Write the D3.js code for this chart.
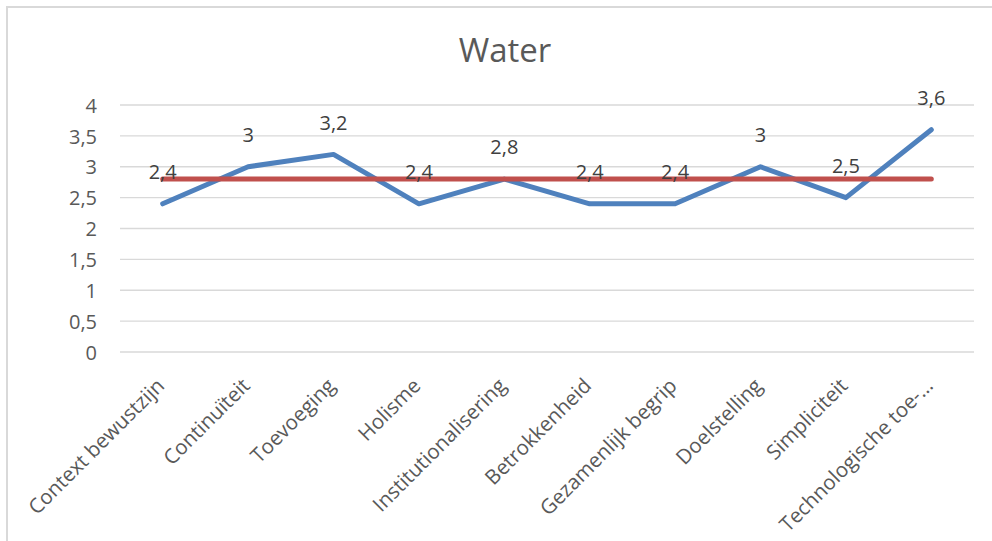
<!DOCTYPE html>
<html><head><meta charset="utf-8">
<script src="https://cdn.jsdelivr.net/npm/d3@7"></script>
<style>html,body{margin:0;padding:0;background:#fff;}svg{display:block;}</style>
</head><body>
<script>
const categories = ["Context bewustzijn","Continuïteit","Toevoeging","Holisme","Institutionalisering","Betrokkenheid","Gezamenlijk begrip","Doelstelling","Simpliciteit","Technologische toe-…"];
const waterValues = [2.4,3,3.2,2.4,2.8,2.4,2.4,3,2.5,3.6];
const averageValues = [2.8,2.8,2.8,2.8,2.8,2.8,2.8,2.8,2.8,2.8];
const yTicks = [0,0.5,1,1.5,2,2.5,3,3.5,4];
const title = "Water";

const W = 992, H = 541;
const font = "'Open Sans', sans-serif";
const svg = d3.select("body").append("svg").attr("width", W).attr("height", H);

// chart border (top and left visible)
svg.append("path").attr("d", "M7,541 V7 H992").attr("fill","none").attr("stroke","#d9d9d9").attr("stroke-width",2);

const x = d3.scaleBand().domain(categories).range([120, 974]);
const y = d3.scaleLinear().domain([0,4]).range([352, 105]);
const cx = d => x(d) + x.bandwidth()/2;

// gridlines
svg.append("g").selectAll("line").data(yTicks).join("line")
  .attr("x1",120).attr("x2",974).attr("y1",d=>y(d)).attr("y2",d=>y(d))
  .attr("stroke","#d9d9d9").attr("stroke-width",1.3);

const fmt = v => String(v).replace(".", ",");

// y axis
const yAxis = d3.axisLeft(y).tickValues(yTicks).tickSize(0).tickPadding(0).tickFormat(fmt);
const gy = svg.append("g").attr("transform","translate(97,0)").call(yAxis);
gy.select(".domain").remove();
gy.selectAll("text").attr("font-family",font).attr("font-size",20).attr("fill","#595959").attr("dy","0.36em");

// x axis labels
const xAxis = d3.axisBottom(x).tickSize(0).tickPadding(0);
const gx = svg.append("g").attr("transform","translate(0,0)").call(xAxis);
gx.select(".domain").remove();
gx.selectAll("text").attr("font-family",font).attr("font-size",20.5).attr("fill","#595959")
  .attr("text-anchor","end").attr("dy",0).attr("y",0)
  .attr("transform","translate(3,387) rotate(-45)");

// lines
const line = d3.line().x((d,i)=>cx(categories[i])).y(d=>y(d));
svg.append("path").datum(waterValues).attr("d",line).attr("fill","none")
  .attr("stroke","#4f81bd").attr("stroke-width",5).attr("stroke-linejoin","round").attr("stroke-linecap","round");
svg.append("path").datum(averageValues).attr("d",line).attr("fill","none")
  .attr("stroke","#c0504d").attr("stroke-width",5).attr("stroke-linejoin","round").attr("stroke-linecap","round");

// data labels
svg.append("g").selectAll("text").data(waterValues).join("text")
  .attr("x",(d,i)=>cx(categories[i])).attr("y",d=>y(d)-32).attr("dy","0.36em")
  .attr("text-anchor","middle").attr("font-family",font).attr("font-size",20).attr("fill","#404040")
  .text(fmt);

// title
svg.append("text").attr("x",505).attr("y",50).attr("dy","0.36em").attr("text-anchor","middle")
  .attr("font-family",font).attr("font-size",33).attr("fill","#595959").text(title);
</script>
</body></html>
